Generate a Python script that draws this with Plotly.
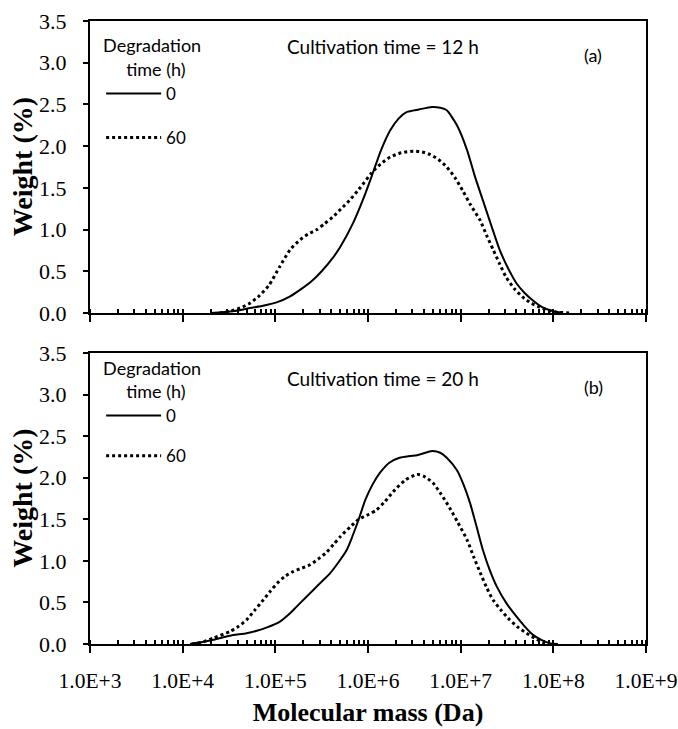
import plotly.graph_objects as go
from plotly.subplots import make_subplots

# ---------------- data ----------------
# Panel (a): cultivation time = 12 h
log_mass_a0 = [4.30, 4.54, 4.73, 4.88, 5.02, 5.16, 5.27, 5.40, 5.50, 5.62, 5.70, 5.84, 5.95, 6.04,
               6.14, 6.24, 6.33, 6.42, 6.55, 6.69, 6.78, 6.85, 6.96, 7.07, 7.15, 7.24, 7.33, 7.42,
               7.51, 7.60, 7.69, 7.78, 7.88, 8.00, 8.10]
weight_a0 = [0.00, 0.02, 0.06, 0.09, 0.13, 0.20, 0.28, 0.39, 0.50, 0.66, 0.79, 1.08, 1.37, 1.64,
             1.95, 2.19, 2.33, 2.41, 2.44, 2.47, 2.46, 2.43, 2.25, 1.95, 1.65, 1.35, 1.05, 0.76,
             0.54, 0.36, 0.24, 0.15, 0.07, 0.02, 0.00]

log_mass_a60 = [4.40, 4.51, 4.62, 4.73, 4.83, 4.93, 5.05, 5.16, 5.27, 5.36, 5.45, 5.53, 5.62,
                5.71, 5.80, 5.90, 6.04, 6.14, 6.24, 6.36, 6.49, 6.58, 6.67, 6.76, 6.85, 6.94, 7.02,
                7.11, 7.21, 7.28, 7.35, 7.42, 7.49, 7.58, 7.67, 7.76, 7.85, 7.95, 8.04, 8.20]
weight_a60 = [0.00, 0.02, 0.06, 0.12, 0.21, 0.33, 0.56, 0.76, 0.88, 0.95, 1.00, 1.07, 1.15,
              1.25, 1.35, 1.48, 1.68, 1.79, 1.87, 1.92, 1.94, 1.93, 1.90, 1.84, 1.75, 1.62, 1.47,
              1.29, 1.11, 0.93, 0.76, 0.59, 0.43, 0.29, 0.19, 0.12, 0.07, 0.03, 0.01, 0.00]

# Panel (b): cultivation time = 20 h
log_mass_b0 = [4.08, 4.20, 4.33, 4.51, 4.69, 4.80, 4.91, 5.05, 5.15, 5.23, 5.32, 5.41, 5.50, 5.59,
               5.68, 5.77, 5.83, 5.90, 5.97, 6.05, 6.13, 6.23, 6.34, 6.45, 6.53, 6.62, 6.70, 6.78,
               6.85, 6.96, 7.03, 7.10, 7.17, 7.24, 7.31, 7.39, 7.50, 7.61, 7.70, 7.78, 7.87, 7.96,
               8.05]
weight_b0 = [0.00, 0.02, 0.05, 0.10, 0.13, 0.16, 0.20, 0.27, 0.36, 0.45, 0.55, 0.65, 0.75, 0.85,
             0.98, 1.13, 1.29, 1.50, 1.73, 1.92, 2.06, 2.18, 2.24, 2.26, 2.27, 2.30, 2.32, 2.30,
             2.24, 2.09, 1.92, 1.70, 1.42, 1.13, 0.90, 0.69, 0.48, 0.32, 0.20, 0.11, 0.05, 0.01,
             0.00]

log_mass_b60 = [4.10, 4.20, 4.33, 4.51, 4.60, 4.69, 4.78, 4.87, 4.95, 5.02, 5.10, 5.19, 5.28,
                5.37, 5.46, 5.55, 5.63, 5.70, 5.81, 5.90, 6.01, 6.09, 6.18, 6.27, 6.40, 6.53, 6.60,
                6.70, 6.79, 6.88, 6.97, 7.07, 7.14, 7.21, 7.28, 7.35, 7.44, 7.53, 7.62, 7.71, 7.80,
                7.89, 7.95]
weight_b60 = [0.00, 0.02, 0.07, 0.15, 0.21, 0.29, 0.41, 0.53, 0.64, 0.73, 0.81, 0.87, 0.91,
              0.95, 1.02, 1.10, 1.20, 1.29, 1.41, 1.50, 1.56, 1.61, 1.71, 1.83, 1.97, 2.04, 2.02,
              1.94, 1.80, 1.64, 1.46, 1.25, 1.05, 0.86, 0.68, 0.53, 0.40, 0.29, 0.20, 0.13, 0.07,
              0.02, 0.00]

x_tick_vals = [1e3, 1e4, 1e5, 1e6, 1e7, 1e8, 1e9]
x_tick_text = ["1.0E+3", "1.0E+4", "1.0E+5", "1.0E+6", "1.0E+7", "1.0E+8", "1.0E+9"]
y_tick_vals = [0.0, 0.5, 1.0, 1.5, 2.0, 2.5, 3.0, 3.5]
series_names = ["0", "60"]
panel_titles = ["Cultivation time = 12 h", "Cultivation time = 20 h"]
panel_labels = ["(a)", "(b)"]
y_title = "Weight (%)"
x_title = "Molecular mass (Da)"

# ---------------- figure ----------------
fig = make_subplots(rows=2, cols=1, vertical_spacing=0.0)

SANS = "Lato, 'Open Sans', sans-serif"
SERIF = "'Liberation Serif', 'Times New Roman', serif"

panels = [
    (log_mass_a0, weight_a0, log_mass_a60, weight_a60, "legend"),
    (log_mass_b0, weight_b0, log_mass_b60, weight_b60, "legend2"),
]
for i, (lx0, w0, lx60, w60, leg) in enumerate(panels, start=1):
    fig.add_trace(go.Scatter(
        x=[10 ** v for v in lx0], y=w0, mode="lines", name=series_names[0],
        line=dict(color="black", width=2, shape="spline", smoothing=0.6),
        legend=leg, legendgroup=f"g{i}a"), row=i, col=1)
    fig.add_trace(go.Scatter(
        x=[10 ** v for v in lx60], y=w60, mode="lines", name=series_names[1],
        line=dict(color="black", width=3, dash="3px,3px", shape="spline", smoothing=0.6),
        legend=leg, legendgroup=f"g{i}b"), row=i, col=1)

xaxis_common = dict(
    type="log", range=[3, 9], tickvals=x_tick_vals, ticktext=x_tick_text,
    showline=True, linecolor="black", linewidth=2, mirror=True,
    ticks="outside", ticklen=7, tickwidth=2, tickcolor="black",
    minor=dict(ticks="inside", ticklen=4, tickwidth=1.5, tickcolor="black",
               dtick="D1", showgrid=False),
    showgrid=False, zeroline=False, automargin=False,
    tickfont=dict(family=SERIF, size=21.5, color="black"),
)
yaxis_common = dict(
    range=[0, 3.5], tickvals=y_tick_vals, tickformat=".1f",
    showline=True, linecolor="black", linewidth=2, mirror=True,
    ticks="outside", ticklen=5, tickwidth=2, tickcolor="black",
    showgrid=False, zeroline=False, automargin=False,
    ticklabelstandoff=12,
    tickfont=dict(family=SERIF, size=22, color="black"),
)

fig.update_xaxes(**xaxis_common)
fig.update_yaxes(**yaxis_common)
fig.update_xaxes(showticklabels=False, row=1, col=1)
fig.update_xaxes(ticklabelstandoff=9, row=2, col=1,
                 title=dict(text=f"<b>{x_title}</b>",
                            font=dict(family=SERIF, size=26, color="black"), standoff=11))

fig.update_layout(
    xaxis=dict(domain=[0, 1]),
    yaxis=dict(domain=[0.5313, 1.0]),
    xaxis2=dict(domain=[0, 1]),
    yaxis2=dict(domain=[0.0, 0.4671]),
)

legend_common = dict(
    bgcolor="rgba(0,0,0,0)", borderwidth=0, font=dict(family=SANS, size=17, color="black"),
    xanchor="left", yanchor="top", traceorder="grouped",
    itemwidth=55,
)
legend_title = "Degradation<br>&nbsp;&nbsp;&nbsp;&nbsp;&nbsp;time (h)"
fig.update_layout(
    legend=dict(x=0.02, y=0.987, tracegroupgap=19,
                title=dict(text=legend_title,
                           font=dict(family=SANS, size=18, color="black")),
                **legend_common),
    legend2=dict(x=0.02, y=0.470, tracegroupgap=15,
                 title=dict(text=legend_title,
                            font=dict(family=SANS, size=18, color="black")),
                 **legend_common),
)

for i, (t, lab) in enumerate(zip(panel_titles, panel_labels), start=1):
    xr = "x domain" if i == 1 else "x2 domain"
    yr = "y domain" if i == 1 else "y2 domain"
    fig.add_annotation(text=t, xref=xr, yref=yr, x=0.527, y=0.912, showarrow=False,
                       xanchor="center", yanchor="middle",
                       font=dict(family=SANS, size=19, color="black"))
    fig.add_annotation(text=lab, xref=xr, yref=yr, x=0.905, y=0.882, showarrow=False,
                       xanchor="center", yanchor="middle",
                       font=dict(family=SANS, size=18, color="black"))
    # y-axis title for each panel
    fig.add_annotation(text=f"<b>{y_title}</b>", xref=xr, yref=yr, x=-0.122, y=0.5,
                       showarrow=False, textangle=-90, xanchor="center", yanchor="middle",
                       font=dict(family=SERIF, size=28, color="black"))

fig.update_layout(
    width=678, height=729,
    margin=dict(l=90, r=32, t=21, b=85),
    paper_bgcolor="white", plot_bgcolor="white",
    showlegend=True,
)

# remove the default 8px page margin so the figure fills the window exactly
fig.write_html("out.html", config={"displayModeBar": False},
               post_script="document.body.style.margin='0px';")
